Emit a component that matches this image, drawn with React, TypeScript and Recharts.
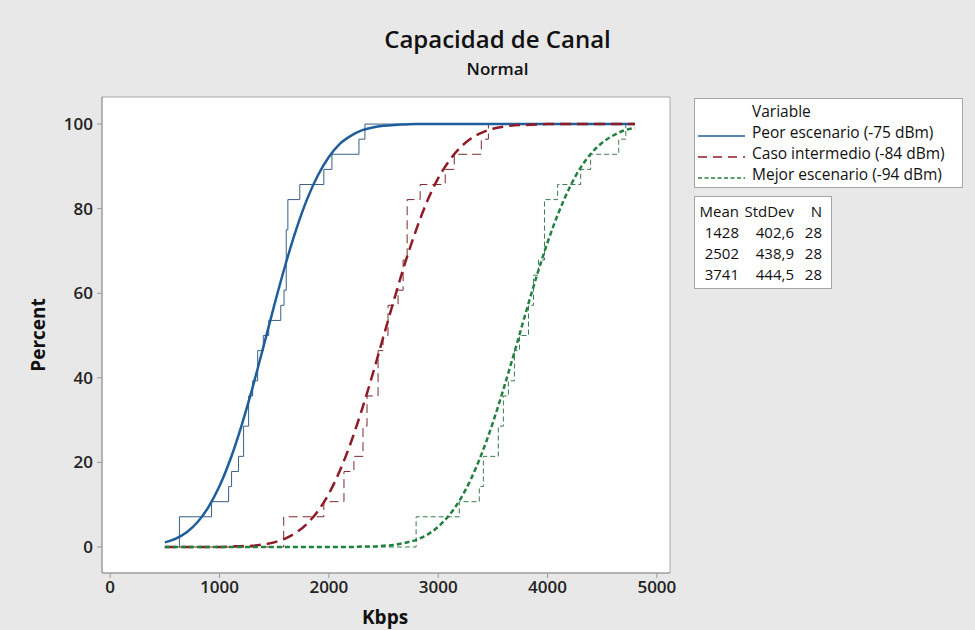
import React from 'react';
import { ComposedChart, Line, XAxis, YAxis, ReferenceArea } from 'recharts';

// fitted normal CDF (percent at each kbps)
const fitKbps = [
  500, 600, 700, 800, 900, 1000, 1100, 1200, 1300, 1400, 1500, 1600, 1700, 1800, 1900,
  2000, 2100, 2200, 2300, 2400, 2500, 2600, 2700, 2800, 2900, 3000, 3100, 3200, 3300,
  3400, 3500, 3600, 3700, 3800, 3900, 4000, 4100, 4200, 4300, 4400, 4500, 4600, 4700, 4800,
];
const peorFit = [
  1.1, 2.0, 3.5, 5.9, 9.5, 14.4, 20.8, 28.6, 37.5, 47.2, 57.1, 66.5, 75.0, 82.2, 87.9,
  92.2, 95.3, 97.2, 98.5, 99.2, 99.6, 99.8, 99.9, 100, 100, 100, 100, 100, 100,
  100, 100, 100, 100, 100, 100, 100, 100, 100, 100, 100, 100, 100, 100, 100,
];
const intermedioFit = [
  0, 0, 0, 0, 0, 0, 0.1, 0.2, 0.3, 0.6, 1.1, 2.0, 3.4, 5.5, 8.5,
  12.6, 18.0, 24.6, 32.3, 40.8, 49.8, 58.8, 67.4, 75.1, 81.8, 87.2, 91.3, 94.4, 96.6,
  98.0, 98.9, 99.4, 99.7, 99.8, 99.9, 100, 100, 100, 100, 100, 100, 100, 100, 100,
];
const mejorFit = [
  0, 0, 0, 0, 0, 0, 0, 0, 0, 0, 0, 0, 0, 0, 0,
  0, 0, 0, 0.1, 0.1, 0.3, 0.5, 1.0, 1.7, 2.9, 4.8, 7.5, 11.2, 16.1,
  22.2, 29.4, 37.6, 46.3, 55.3, 64.0, 72.0, 79.0, 84.9, 89.6, 93.1, 95.6, 97.3, 98.5, 99.1,
];

// sorted samples (28 each), read from the empirical steps
const peorSamples = [
  633, 633, 927, 1083, 1110, 1174, 1220, 1220, 1266, 1266, 1303, 1349, 1349, 1400,
  1450, 1560, 1590, 1610, 1610, 1610, 1610, 1625, 1625, 1734, 1954, 2028, 2275, 2330,
];
const intermedioSamples = [
  1587, 1587, 1954, 2138, 2138, 2229, 2312, 2312, 2349, 2349, 2450, 2450, 2450, 2495,
  2541, 2541, 2633, 2679, 2679, 2716, 2716, 2716, 2716, 2835, 3064, 3147, 3394, 3459,
];
const mejorSamples = [
  2798, 2798, 3193, 3376, 3413, 3413, 3550, 3550, 3596, 3596, 3642, 3697, 3697, 3743,
  3826, 3826, 3872, 3872, 3917, 3972, 3972, 3972, 3972, 4092, 4303, 4394, 4651, 4716,
];

const seriesNames = ['Peor escenario (-75 dBm)', 'Caso intermedio (-84 dBm)', 'Mejor escenario (-94 dBm)'];
const statMeans = ['1428', '2502', '3741'];
const statStdDevs = ['402,6', '438,9', '444,5'];
const statN = ['28', '28', '28'];

const xTicks = [0, 1000, 2000, 3000, 4000, 5000];
const yTicks = [0, 20, 40, 60, 80, 100];

const fitData = (vals: number[]) => fitKbps.map((x, i) => ({ x, y: vals[i] }));

const ecdf = (samples: number[]) => {
  const n = samples.length;
  const pts = [{ x: fitKbps[0], y: 0 }];
  samples.forEach((v, i) => {
    if (i === n - 1 || samples[i + 1] !== v) pts.push({ x: v, y: ((i + 1) / n) * 100 });
  });
  pts.push({ x: fitKbps[fitKbps.length - 1], y: 100 });
  return pts;
};

const BLUE = '#1f5e9a';
const RED = '#8e1b25';
const GREEN = '#23813f';
const FONT = '"Open Sans", "Noto Sans", sans-serif';

const tickStyle = { fill: '#222', fontSize: 17, fontWeight: 600, fontFamily: FONT };

export default function App() {
  return (
    <div style={{ position: 'relative', width: 975, height: 630, background: '#e8e8e8', fontFamily: FONT, color: '#111' }}>
      <style>{'body{margin:0}'}</style>
      <div style={{ position: 'absolute', left: 0, width: 995, top: 22, textAlign: 'center', fontSize: 24, fontWeight: 600 }}>
        Capacidad de Canal
      </div>
      <div style={{ position: 'absolute', left: 0, width: 995, top: 57, textAlign: 'center', fontSize: 17, fontWeight: 600 }}>
        Normal
      </div>

      <ComposedChart width={975} height={630} margin={{ top: 97, right: 305, bottom: 0, left: 0 }}>
        <XAxis
          dataKey="x"
          type="number"
          domain={[-75, 5120]}
          allowDataOverflow
          ticks={xTicks}
          height={57}
          tickSize={5}
          tickMargin={3}
          stroke="#999"
          tick={tickStyle}
        />
        <YAxis
          type="number"
          domain={[-6.15, 106.4]}
          allowDataOverflow
          ticks={yTicks}
          width={102}
          tickSize={5}
          tickMargin={4}
          stroke="#999"
          tick={tickStyle}
        />
        <ReferenceArea x1={-75} x2={5120} y1={-6.15} y2={106.4} fill="#fff" fillOpacity={1} stroke="#a6a6a6" />

        <Line data={ecdf(peorSamples)} dataKey="y" type="stepAfter" stroke="#3b5f83" strokeWidth={1} dot={false} isAnimationActive={false} />
        <Line data={ecdf(intermedioSamples)} dataKey="y" type="stepAfter" stroke="#7a2b30" strokeWidth={1} strokeDasharray="9 5" dot={false} isAnimationActive={false} />
        <Line data={ecdf(mejorSamples)} dataKey="y" type="stepAfter" stroke="#3c7a4f" strokeWidth={1} strokeDasharray="5 3" dot={false} isAnimationActive={false} />

        <Line data={fitData(peorFit)} dataKey="y" type="monotone" stroke={BLUE} strokeWidth={2.5} dot={false} isAnimationActive={false} />
        <Line data={fitData(intermedioFit)} dataKey="y" type="monotone" stroke={RED} strokeWidth={2.5} strokeDasharray="11 6" dot={false} isAnimationActive={false} />
        <Line data={fitData(mejorFit)} dataKey="y" type="monotone" stroke={GREEN} strokeWidth={2.5} strokeDasharray="5 3" dot={false} isAnimationActive={false} />
      </ComposedChart>

      <div style={{ position: 'absolute', left: 362, top: 604, fontSize: 19, fontWeight: 700 }}>Kbps</div>
      <div
        style={{
          position: 'absolute', left: 38, top: 335, fontSize: 19, fontWeight: 700,
          transform: 'translate(-50%, -50%) rotate(-90deg)', whiteSpace: 'nowrap',
        }}
      >
        Percent
      </div>

      {/* legend */}
      <div
        style={{
          position: 'absolute', left: 694, top: 98, width: 269, height: 90, background: '#fff',
          border: '1px solid #a6a6a6', boxSizing: 'border-box', fontSize: 15.5, lineHeight: '21px',
        }}
      >
        <div style={{ paddingLeft: 57, paddingTop: 2 }}>Variable</div>
        {seriesNames.map((name, i) => (
          <div key={name} style={{ display: 'flex', alignItems: 'center' }}>
            <svg width={57} height={21}>
              <line
                x1={3} x2={50} y1={14} y2={14}
                stroke={[BLUE, RED, GREEN][i]}
                strokeWidth={1.3}
                strokeDasharray={['', '9 6', '4 2.5'][i]}
              />
            </svg>
            <span>{name}</span>
          </div>
        ))}
      </div>

      {/* stats table */}
      <div
        style={{
          position: 'absolute', left: 694, top: 196, width: 138, height: 93, background: '#fff',
          border: '1px solid #a6a6a6', boxSizing: 'border-box', fontSize: 15, lineHeight: '21px', paddingTop: 4,
        }}
      >
        {[['Mean', 'StdDev', 'N'], ...statMeans.map((m, i) => [m, statStdDevs[i], statN[i]])].map((row, r) => (
          <div key={r} style={{ position: 'relative', height: 21 }}>
            <span style={{ position: 'absolute', right: 92 }}>{row[0]}</span>
            <span style={{ position: 'absolute', right: 37 }}>{row[1]}</span>
            <span style={{ position: 'absolute', right: 9 }}>{row[2]}</span>
          </div>
        ))}
      </div>
    </div>
  );
}
